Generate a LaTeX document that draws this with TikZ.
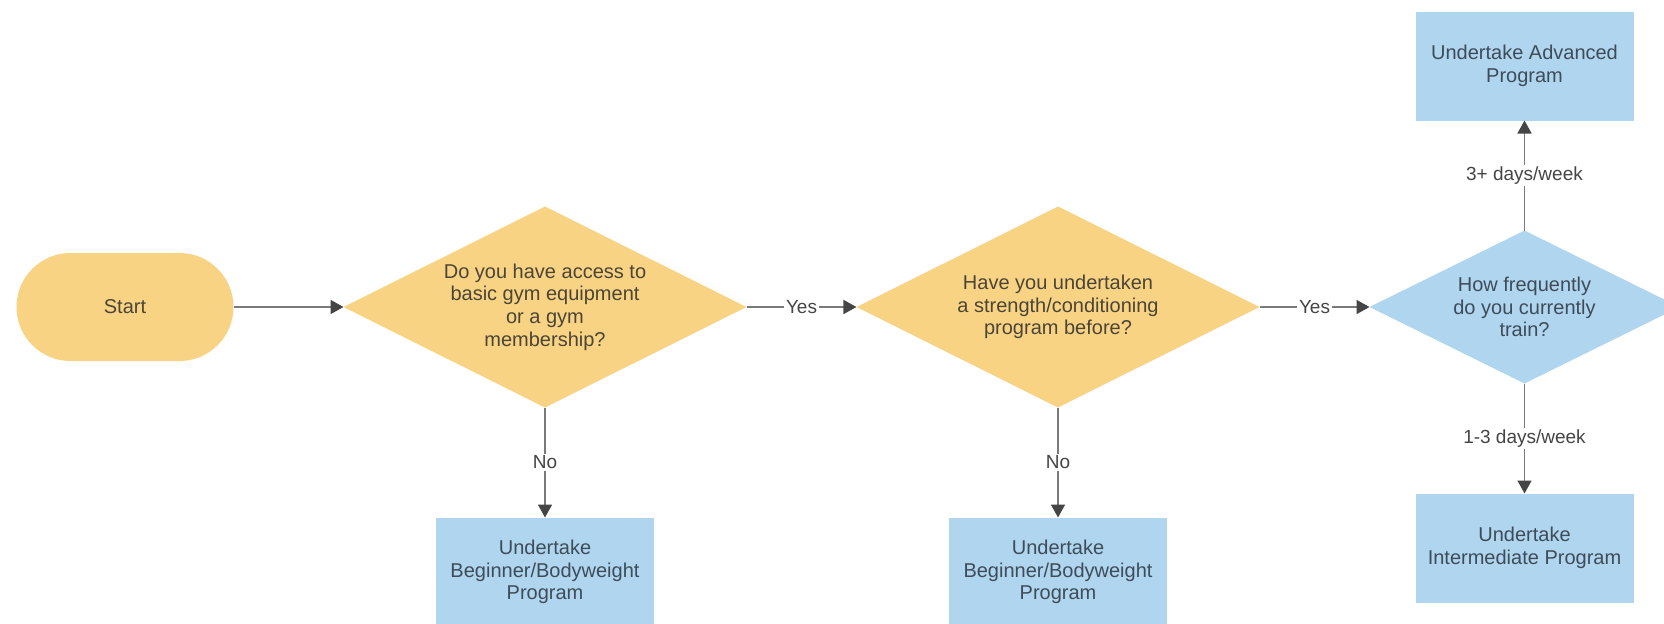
\documentclass[tikz,border=0pt]{standalone}
\usepackage{fontspec}
\setmainfont{Liberation Sans}
\usetikzlibrary{shapes,arrows.meta,positioning}
\definecolor{gold}{HTML}{F9D384}
\definecolor{sky}{HTML}{B0D5EE}
\definecolor{ink}{HTML}{4A4536}
\definecolor{slate}{HTML}{3E4C5A}
\definecolor{wire}{HTML}{7A7A7A}
\definecolor{tipc}{HTML}{454545}

\begin{document}
\begin{tikzpicture}[x=0.5pt, y=-0.5pt, node distance=55pt,
    every node/.style={font=\fontsize{10}{11.3}\selectfont, text=ink, align=center, outer sep=0pt},
    term/.style={rectangle, rounded corners=27pt, fill=gold, minimum width=108.5pt, minimum height=54pt},
    quest/.style={diamond, aspect=2, inner sep=0pt, fill=gold, minimum width=201.5pt, minimum height=100.5pt},
    task/.style={rectangle, fill=sky, text=slate, minimum width=109pt, minimum height=54.5pt},
    link/.style={draw=wire, line width=0.8pt, -{Triangle[length=6.5pt, width=7pt, color=tipc]}},
    tag/.style={fill=white, inner sep=1pt, text=tipc, font=\fontsize{9.5}{11}\selectfont}]
  \useasboundingbox (0,0) rectangle (1664,623);
  % start and question nodes
  \node[term] (s) at (125,307) {Start};
  \node[quest] (q1) [right =of s] {Do you have access to\\basic gym equipment\\or a gym\\membership?};
  \node[quest] (q2) [right =of q1] {Have you undertaken\\a strength/conditioning\\program before?};
  \node[quest, fill=sky, text=slate, minimum width=155pt, minimum height=76.5pt] (q3) [right =of q2] {How frequently\\do you currently\\train?};
  % program nodes
  \node[task] (b1) [below =of q1] {Undertake\\Beginner/Bodyweight\\Program};
  \node[task] (b2) [below =of q2] {Undertake\\Beginner/Bodyweight\\Program};
  \node[task] (adv) [above =of q3] {Undertake Advanced\\Program};
  \node[task] (mid) [below =of q3] {Undertake\\Intermediate Program};
  % edges
  \draw[link] (s) -- (q1);
  \draw[link] (q1) -- node[tag] {Yes} (q2);
  \draw[link] (q2) -- node[tag] {Yes} (q3);
  \draw[link] (q1) -- node[tag] {No} (b1);
  \draw[link] (q2) -- node[tag] {No} (b2);
  \draw[link] (q3) -- node[tag] {3+ days/week} (adv);
  \draw[link] (q3) -- node[tag] {1-3 days/week} (mid);
\end{tikzpicture}
\end{document}
